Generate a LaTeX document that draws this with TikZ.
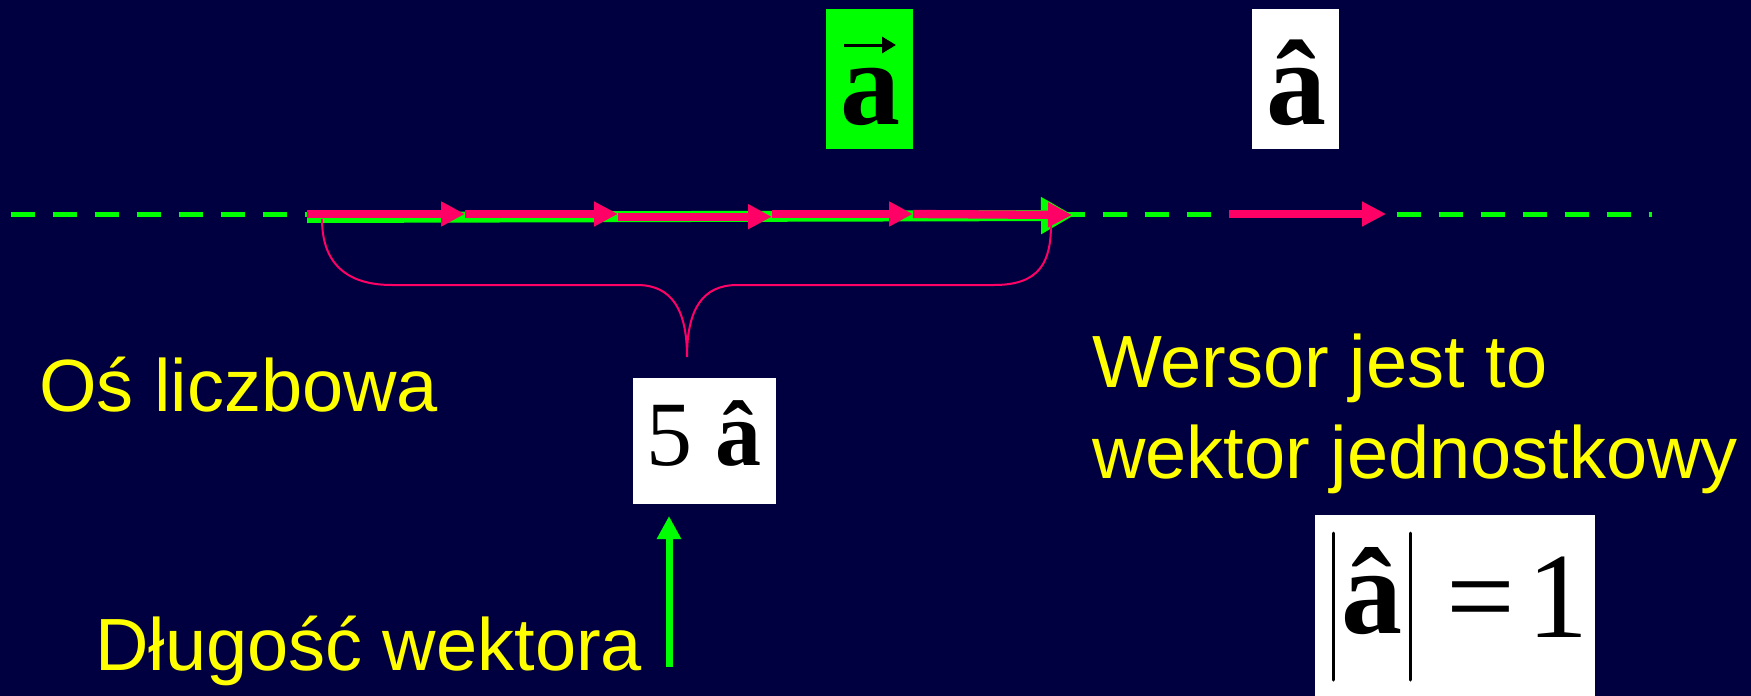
\documentclass[tikz,border=0pt]{standalone}
\usepackage{fontspec}
\setmainfont{Liberation Serif}
\newfontfamily\sansf{Liberation Sans}
\usetikzlibrary{arrows.meta}
\definecolor{bg}{RGB}{0,0,64}
\definecolor{vpink}{RGB}{255,0,102}
\definecolor{vgreen}{RGB}{0,255,0}
\definecolor{vyellow}{RGB}{255,255,0}
\begin{document}
\begin{tikzpicture}[x=1pt,y=-1pt,
  lbl/.style={text=vyellow,font=\sansf\fontsize{74}{80}\selectfont,inner sep=0pt,anchor=base west},
  pinkvec/.style={draw=vpink,line width=8.3pt,-{Triangle[length=24pt,width=23.5pt]}},
  greenvec/.style={draw=vgreen,line width=11pt,-{Triangle[length=33pt,width=35pt]}},
  greenup/.style={draw=vgreen,line width=7pt,-{Triangle[length=23pt,width=23pt]}},
  axisline/.style={draw=vgreen,line width=5pt,dash pattern=on 24pt off 18pt},
  brace/.style={draw=vpink,line width=2pt},
  mbox/.style={inner sep=0pt,draw=none},
  sym/.style={inner sep=0pt,anchor=base,text=black}
]
\fill[bg] (0,0) rectangle (1751,696);
\useasboundingbox (0,0) rectangle (1751,696);

% axis
\coordinate (axL) at (10.7,214);
\coordinate (axR) at (1652,214);
\draw[axisline] (axL) -- (axR);

% main green vector
\coordinate (g0) at (307,217.5);
\coordinate (g1) at (1074,215.5);
\draw[greenvec] (g0) -- (g1);

% pink unit vectors
\coordinate (p0) at (307,214);
\coordinate (p1) at (465,214);
\coordinate (p2) at (618,214);
\coordinate (p2b) at (618,216.7);
\coordinate (p3) at (772,216.7);
\coordinate (p3b) at (772,214);
\coordinate (p4) at (913,214);
\coordinate (p5) at (1072,215);
\draw[pinkvec] (p0) -- (p1);
\draw[pinkvec] (p1) -- (p2);
\draw[pinkvec] (p2b) -- (p3);
\draw[pinkvec] (p3b) -- (p4);
\draw[pinkvec] (p4) -- (p5);

% single unit vector on the right
\coordinate (u0) at (1229,214);
\coordinate (u1) at (1386,214);
\draw[pinkvec] (u0) -- (u1);

% brace
\coordinate (bL) at (322,219);
\coordinate (bM) at (687,357);
\coordinate (bR) at (1051,224);
\draw[brace] (bL) .. controls (322,262) and (345,285) .. (392,285) -- (637,285)
  .. controls (672,285) and (687,310) .. (bM)
  .. controls (687,310) and (702,285) .. (737,285) -- (994,285)
  .. controls (1040,285) and (1051,262) .. (bR);

% top boxes
\node[mbox,fill=vgreen,minimum width=87pt,minimum height=140pt] (vecbox) at (869.5,79) {};
\node[sym,font=\bfseries\fontsize{120}{120}\selectfont] (veca) at (870,124) {a};
\coordinate (va0) at (844,45);
\coordinate (va1) at (896,45);
\draw[black,line width=3pt,-{Triangle[length=14pt,width=16pt]}] (va0) -- (va1);

\node[mbox,fill=white,minimum width=87pt,minimum height=140pt] (hatbox) at (1295.5,79) {};
\node[sym,font=\bfseries\fontsize{120}{120}\selectfont] (hata) at (1296,124) {â};

% 5 a-hat box
\node[mbox,fill=white,minimum width=143pt,minimum height=126pt] (box5) at (704.5,441) {};
\node[sym,font=\fontsize{92}{92}\selectfont] (five) at (704,465) {5 \textbf{â}};

% length arrow
\coordinate (upS) at (669,667);
\coordinate (upT) at (669,516);
\draw[greenup] (upS) -- (upT);

% |a-hat| = 1 box
\node[mbox,fill=white,minimum width=280pt,minimum height=181pt] (normbox) at (1455,605.5) {};
\coordinate (bar1t) at (1333,533);
\coordinate (bar1b) at (1333,680);
\coordinate (bar2t) at (1410,533);
\coordinate (bar2b) at (1410,680);
\draw[black,line width=3pt,line cap=round] (bar1t) -- (bar1b);
\draw[black,line width=3pt,line cap=round] (bar2t) -- (bar2b);
\node[sym,font=\bfseries\fontsize{122}{122}\selectfont] (na) at (1372,633) {â};
\node[sym,font=\fontsize{122}{122}\selectfont] (eq) at (1481,637) {=};
\node[sym,font=\fontsize{122}{122}\selectfont] (one) at (1558,637) {1};

% labels
\node[lbl] (os) at (39,411) {Oś liczbowa};
\node[lbl] (wersor1) at (1092,387) {Wersor jest to};
\node[lbl] (wersor2) at (1092,478) {wektor jednostkowy};
\node[lbl] (dlugosc) at (95,670) {Długość wektora};
\end{tikzpicture}
\end{document}
